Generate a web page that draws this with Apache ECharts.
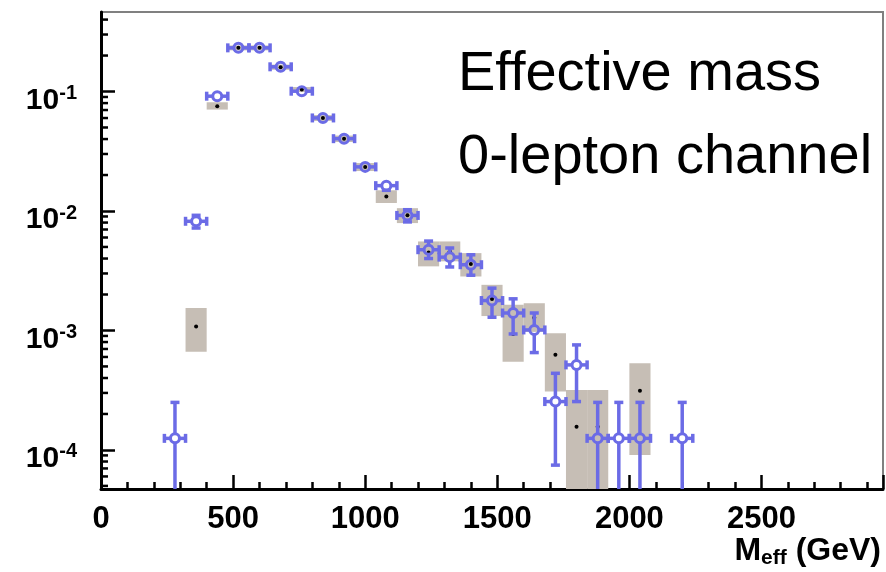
<!DOCTYPE html>
<html><head><meta charset="utf-8">
<script src="https://cdn.jsdelivr.net/npm/echarts@6/dist/echarts.min.js"></script>
<style>html,body{margin:0;padding:0;background:#fff}#c{width:886px;height:572px}</style>
</head><body><div id="c"></div>
<script>
// ---- data ----
const binWidth = 80;
const dataX = [280,360,440,520,600,680,760,840,920,1000,1080,1160,1240,1320,1400,1480,1560,1640,1720,1800,1880,1960,2040,2200];
const dataY = [1.25e-4,8.2e-3,0.0914,0.232,0.232,0.161,0.1006,0.0601,0.0403,0.0234,0.0163,0.00918,0.00474,0.00411,0.00355,0.00178,0.00140,0.00101,2.54e-4,5.15e-4,1.25e-4,1.25e-4,1.25e-4,1.25e-4];
const dataErrHigh = [2.5e-4,9.2e-3,0.0948,0.2373,0.2373,0.1655,0.1041,0.0629,0.0426,0.0251,0.0177,0.01025,0.0056,0.0049,0.0043,0.00226,0.00184,0.0014,4.38e-4,7.57e-4,2.5e-4,2.5e-4,2.5e-4,2.5e-4];
const dataErrLow = [0,7.2e-3,0.0880,0.2267,0.2267,0.1565,0.0971,0.0573,0.0380,0.0217,0.0149,0.0081,0.0040,0.0034,0.0029,0.00129,9.35e-4,6.53e-4,7.46e-5,2.54e-4,0,0,0,0];
const mcX = [360,440,520,600,680,760,840,920,1000,1080,1160,1240,1320,1400,1480,1560,1640,1720,1800,1880,2040];
const mcY = [1.08e-3,0.0753,0.232,0.232,0.160,0.104,0.0601,0.0403,0.0234,0.0132,0.0092,0.0045,0.0046,0.0036,0.00183,9.35e-4,0.00128,6.25e-4,1.56e-4,1.56e-4,3.13e-4];
const mcBandHigh = [1.54e-3,0.0813,0.243,0.243,0.168,0.109,0.0635,0.0428,0.0252,0.0149,0.01056,0.00556,0.00556,0.00444,0.00241,0.00164,0.00169,9.48e-4,3.18e-4,3.18e-4,5.32e-4];
const mcBandLow = [6.65e-4,0.0706,0.221,0.221,0.152,0.099,0.0567,0.0378,0.0216,0.01167,0.00792,0.00344,0.00379,0.00283,0.00132,5.48e-4,9.73e-4,3.08e-4,0,0,9.06e-5];
const xTickLabels = [0,500,1000,1500,2000,2500];
const yTickExponents = [-4,-3,-2,-1];
const yMinorMantissas = [2,3,4,5,6,7,8,9];
const yMinorDecades = [-5,-4,-3,-2,-1];
const X_MIN = 0, X_MAX = 2960, Y_MIN = 4.71e-5, Y_MAX = 0.463;

// ---- styles ----
const BLUE = '#6b6be6';
const GRAY = '#c6beb5';
const FONT = '"Liberation Sans", Arial, Helvetica, sans-serif';

const dataItems = dataX.map((x, i) => [x, dataY[i], dataErrLow[i], dataErrHigh[i]]);
const mcItems = mcX.map((x, i) => [x, mcY[i], mcBandLow[i], mcBandHigh[i]]);
const minorTicks = [];
yMinorDecades.forEach(d => yMinorMantissas.forEach(m => {
  const v = m * Math.pow(10, d);
  if (v > Y_MIN && v < Y_MAX) minorTicks.push([X_MIN, v]);
}));

function bottomOf(cs) { return cs.y + cs.height; }

function renderMC(params, api) {
  const cs = params.coordSys;
  const x = api.value(0), v = api.value(1), lo = api.value(2), hi = api.value(3);
  const xl = api.coord([x - binWidth / 2, v])[0];
  const xr = api.coord([x + binWidth / 2, v])[0];
  const yTop = Math.max(api.coord([x, hi])[1], cs.y);
  const yBot = lo > 0 ? Math.min(api.coord([x, lo])[1], bottomOf(cs)) : bottomOf(cs);
  const c = api.coord([x, v]);
  return {
    type: 'group',
    children: [
      { type: 'rect', shape: { x: xl, y: yTop, width: xr - xl, height: yBot - yTop }, style: { fill: GRAY } },
      { type: 'circle', shape: { cx: c[0], cy: c[1], r: 2 }, style: { fill: '#000' } }
    ]
  };
}

function renderData(params, api) {
  const cs = params.coordSys;
  const x = api.value(0), v = api.value(1), lo = api.value(2), hi = api.value(3);
  const c = api.coord([x, v]);
  const xl = api.coord([x - binWidth / 2, v])[0];
  const xr = api.coord([x + binWidth / 2, v])[0];
  const yHi = api.coord([x, hi])[1];
  const loClipped = !(lo > 0);
  const yLo = loClipped ? bottomOf(cs) + 5 : api.coord([x, lo])[1];
  const r = 4.5, cap = 4.5;
  const ls = { stroke: BLUE, lineWidth: 3.5 };
  const ch = [];
  ch.push({ type: 'line', shape: { x1: xl, y1: c[1], x2: c[0] - r, y2: c[1] }, style: ls });
  ch.push({ type: 'line', shape: { x1: c[0] + r, y1: c[1], x2: xr, y2: c[1] }, style: ls });
  ch.push({ type: 'line', shape: { x1: xl, y1: c[1] - cap, x2: xl, y2: c[1] + cap }, style: ls });
  ch.push({ type: 'line', shape: { x1: xr, y1: c[1] - cap, x2: xr, y2: c[1] + cap }, style: ls });
  if (c[1] - yHi > r) {
    ch.push({ type: 'line', shape: { x1: c[0], y1: yHi, x2: c[0], y2: c[1] - r }, style: ls });
    ch.push({ type: 'line', shape: { x1: c[0] - cap, y1: yHi, x2: c[0] + cap, y2: yHi }, style: ls });
  }
  if (yLo - c[1] > r) {
    ch.push({ type: 'line', shape: { x1: c[0], y1: c[1] + r, x2: c[0], y2: yLo }, style: ls });
    if (!loClipped) ch.push({ type: 'line', shape: { x1: c[0] - cap, y1: yLo, x2: c[0] + cap, y2: yLo }, style: ls });
  }
  ch.push({ type: 'circle', shape: { cx: c[0], cy: c[1], r: r }, style: { fill: 'none', stroke: BLUE, lineWidth: 3 } });
  return { type: 'group', children: ch };
}

function renderMinorTick(params, api) {
  const cs = params.coordSys;
  const p = api.coord([api.value(0), api.value(1)]);
  return { type: 'line', shape: { x1: cs.x, y1: p[1], x2: cs.x + 7, y2: p[1] }, style: { stroke: '#000', lineWidth: 2.5 } };
}

const chart = echarts.init(document.getElementById('c'), null, { renderer: 'canvas' });
chart.setOption({
  animation: false,
  backgroundColor: '#fff',
  grid: { left: 101, top: 12, right: 3, bottom: 83, show: true, borderColor: '#808080', borderWidth: 2,
          backgroundColor: 'transparent', containLabel: false, outerBoundsMode: 'none' },
  xAxis: [{
    type: 'value', min: X_MIN, max: X_MAX, interval: 100, position: 'bottom',
    axisLine: { show: true, onZero: false, lineStyle: { color: '#000', width: 3 } },
    axisTick: { show: true, inside: true, length: 7, lineStyle: { color: '#000', width: 2.5 } },
    axisLabel: {
      formatter: v => xTickLabels.indexOf(v) >= 0 ? String(v) : '',
      showMinLabel: true, showMaxLabel: false, margin: 15,
      fontFamily: FONT, fontWeight: 'bold', fontSize: 31, color: '#000'
    },
    splitLine: { show: false }
  }, {
    type: 'value', min: X_MIN, max: X_MAX, interval: 500, position: 'bottom',
    axisLine: { show: false, onZero: false },
    axisTick: { show: true, inside: true, length: 14, lineStyle: { color: '#000', width: 2.5 } },
    axisLabel: { show: false }, splitLine: { show: false }
  }],
  yAxis: [{
    type: 'log', logBase: 10, min: Y_MIN, max: Y_MAX,
    axisLine: { show: true, onZero: false, lineStyle: { color: '#000', width: 3 } },
    axisTick: { show: true, inside: true, length: 14, lineStyle: { color: '#000', width: 2.5 } },
    minorTick: { show: false },
    splitLine: { show: false },
    axisLabel: {
      showMinLabel: false, showMaxLabel: false, margin: 24,
      padding: [18, 0, 0, 0],
      formatter: v => {
        const e = Math.log10(v), k = Math.round(e);
        return (Math.abs(e - k) < 1e-6 && yTickExponents.indexOf(k) >= 0) ? '{b|10}{s|' + k + '}' : '';
      },
      rich: {
        b: { fontFamily: FONT, fontWeight: 'bold', fontSize: 30, color: '#000', lineHeight: 34 },
        s: { fontFamily: FONT, fontWeight: 'bold', fontSize: 20, color: '#000', lineHeight: 19, verticalAlign: 'top' }
      }
    }
  }],
  series: [
    { type: 'custom', name: 'MC', xAxisIndex: 0, yAxisIndex: 0, renderItem: renderMC, data: mcItems, clip: true, z: 2, encode: { x: 0, y: 1 } },
    { type: 'custom', name: 'Data', xAxisIndex: 0, yAxisIndex: 0, renderItem: renderData, data: dataItems, clip: true, z: 3, encode: { x: 0, y: 1 } },
    { type: 'custom', name: 'minorTicks', xAxisIndex: 0, yAxisIndex: 0, renderItem: renderMinorTick, data: minorTicks, clip: false, z: 4, encode: { x: 0, y: 1 }, silent: true }
  ],
  graphic: [
    { type: 'text', x: 458, y: 75, style: { text: 'Effective mass', font: '56px ' + FONT, fill: '#000', align: 'left', verticalAlign: 'middle' } },
    { type: 'text', x: 458, y: 158, style: { text: '0-lepton channel', font: '56px ' + FONT, fill: '#000', align: 'left', verticalAlign: 'middle' } },
    { type: 'text', x: 881, y: 533, style: {
        text: '{m|M}{s|eff}{m| (GeV)}', align: 'right', verticalAlign: 'top',
        rich: {
          m: { fontFamily: FONT, fontWeight: 'bold', fontSize: 32, fill: '#000', lineHeight: 36 },
          s: { fontFamily: FONT, fontWeight: 'bold', fontSize: 21, fill: '#000', lineHeight: 21, verticalAlign: 'bottom' }
        } } }
  ]
});
</script>
</body></html>
